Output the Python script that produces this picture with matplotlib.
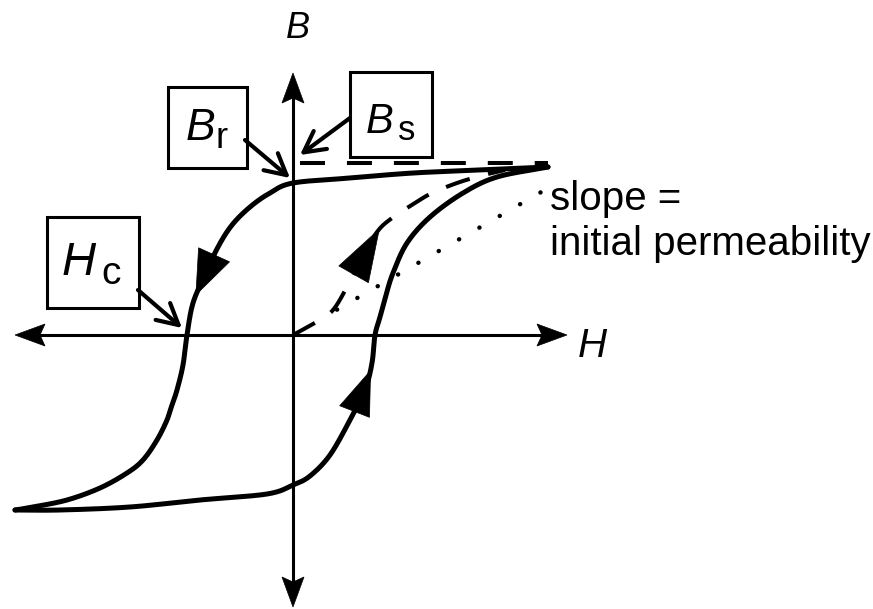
import numpy as np
import matplotlib
matplotlib.use("Agg")
import matplotlib.pyplot as plt
from matplotlib.patches import Polygon, Rectangle

# ---------------- data (H, B in arbitrary units, origin at axis crossing) -------------
# descending branch (from +saturation down to -saturation)
H_desc = [2.55, 1.87, 1.20, 0.57, 0.00, -0.23, -0.43, -0.61, -0.75, -0.88, -1.00,
          -1.06, -1.10, -1.16, -1.21, -1.26, -1.36, -1.50, -1.66, -1.93, -2.26, -2.60, -2.78]
B_desc = [1.68, 1.65, 1.62, 1.57, 1.52, 1.42, 1.28, 1.10, 0.88, 0.60, 0.32,
          0.00, -0.30, -0.55, -0.70, -0.85, -1.05, -1.25, -1.38, -1.53, -1.65, -1.72, -1.75]
# ascending branch (from -saturation up to +saturation)
H_asc = [-2.78, -2.33, -1.63, -0.93, -0.26, 0.00, 0.17, 0.37, 0.57, 0.72, 0.79,
         0.82, 0.87, 0.93, 1.00, 1.14, 1.37, 1.70, 2.04, 2.55]
B_asc = [-1.75, -1.75, -1.72, -1.65, -1.59, -1.50, -1.41, -1.20, -0.85, -0.55, -0.28,
         0.00, 0.18, 0.40, 0.62, 0.92, 1.18, 1.42, 1.58, 1.68]
# initial magnetisation curve (dashed)
H_init = [0.00, 0.25, 0.40, 0.54, 0.69, 0.84, 0.99, 1.22, 1.39, 1.64, 1.87, 2.12]
B_init = [0.00, 0.14, 0.25, 0.48, 0.77, 1.03, 1.17, 1.32, 1.42, 1.52, 1.59, 1.65]
# saturation level (dashed) and its H extent
B_sat = 1.72
H_sat_range = [0.07, 2.55]
# initial permeability (dotted slope line) and its H extent
mu_init = 0.576
H_mu_range = [0.44, 2.49]
# axis extents
H_axis = [-2.78, 2.74]
B_axis = [-2.72, 2.62]
# labels
axis_labels = ["H", "B"]
box_labels = [("B", "r"), ("B", "s"), ("H", "c")]
slope_text = "slope =\ninitial permeability"

# ---------------- setup ----------------
plt.rcParams["font.family"] = ["Liberation Sans", "DejaVu Sans"]
plt.rcParams["lines.scale_dashes"] = False

fig = plt.figure(figsize=(8.73, 6.09), dpi=100)
ax = fig.add_axes([0, 0, 1, 1])
ax.set_xlim(-2.93, 5.80)
ax.set_ylim(-2.74, 3.35)
ax.axis("off")

PX = 0.01  # data units per pixel
K = "black"


def smooth(x, y, n=25):
    P = np.column_stack([x, y]).astype(float)
    P = np.vstack([2 * P[0] - P[1], P, 2 * P[-1] - P[-2]])
    out = []
    t = np.linspace(0, 1, n, endpoint=False)[:, None]
    for i in range(1, len(P) - 2):
        p0, p1, p2, p3 = P[i - 1], P[i], P[i + 1], P[i + 2]
        pts = 0.5 * ((2 * p1) + (-p0 + p2) * t + (2 * p0 - 5 * p1 + 4 * p2 - p3) * t ** 2
                     + (-p0 + 3 * p1 - 3 * p2 + p3) * t ** 3)
        out.append(pts)
    out.append(P[-2][None, :])
    S = np.vstack(out)
    return S[:, 0], S[:, 1]


def arrowhead(tip, direction, length, half, notch=0.0, z=5):
    d = np.asarray(direction, float)
    d = d / np.hypot(*d)
    nrm = np.array([-d[1], d[0]])
    tip = np.asarray(tip, float)
    base = tip - d * length * PX
    pts = [tip, base + nrm * half * PX, tip - d * (length - notch) * PX, base - nrm * half * PX]
    ax.add_patch(Polygon(pts, closed=True, fc=K, ec=K, lw=0.5, zorder=z))


def curve_arrow(Hs, Bs, B_tip, length, half):
    Hs = np.asarray(Hs); Bs = np.asarray(Bs)
    idx = np.where(np.diff(np.sign(Bs - B_tip)) != 0)[0][0]
    tip = np.array([Hs[idx], Bs[idx]])
    seg = np.hypot(np.diff(Hs), np.diff(Bs)) / PX
    s = np.concatenate([[0], np.cumsum(seg)])
    sb = s[idx] - length
    base = np.array([np.interp(sb, s, Hs), np.interp(sb, s, Bs)])
    arrowhead(tip, tip - base, length, half)


# ---------------- axes with arrows ----------------
AL, AH, NOTCH = 30, 11, 5
ax.plot([H_axis[0] + (AL - NOTCH) * PX, H_axis[1] - (AL - NOTCH) * PX], [0, 0],
        color=K, lw=2.2, zorder=3)
ax.plot([0, 0], [B_axis[0] + (AL - NOTCH) * PX, B_axis[1] - (AL - NOTCH) * PX],
        color=K, lw=2.2, zorder=3)
arrowhead((H_axis[1], 0), (1, 0), AL, AH, NOTCH)
arrowhead((H_axis[0], 0), (-1, 0), AL, AH, NOTCH)
arrowhead((0, B_axis[1]), (0, 1), AL, AH, NOTCH)
arrowhead((0, B_axis[0]), (0, -1), AL, AH, NOTCH)

ax.text(H_axis[1] + 0.11, -0.22, axis_labels[0], fontsize=29, style="italic",
        ha="left", va="baseline")
ax.text(0.05, 2.97, axis_labels[1], fontsize=26, style="italic",
        ha="center", va="baseline")

# ---------------- hysteresis loop ----------------
hd, bd = smooth(H_desc, B_desc)
ha_, ba_ = smooth(H_asc, B_asc)
ax.plot(hd, bd, color=K, lw=3.6, solid_capstyle="round", solid_joinstyle="round", zorder=4)
ax.plot(ha_, ba_, color=K, lw=3.6, solid_capstyle="round", solid_joinstyle="round", zorder=4)
curve_arrow(hd, bd, 0.40, 44, 17)
curve_arrow(ha_, ba_, -0.35, 44, 16)

# initial magnetisation (dashed)
hi, bi = smooth(H_init, B_init)
ax.plot(hi, bi, color=K, lw=2.9, linestyle=(0, (18, 13.7)), zorder=4)
curve_arrow(hi, bi, 1.06, 52, 17)

# saturation level (dashed)
ax.plot(H_sat_range, [B_sat, B_sat], color=K, lw=2.9, linestyle=(0, (18, 15.8)), zorder=4)

# initial permeability slope (dotted)
Hm = np.array(H_mu_range)
ax.plot(Hm, mu_init * Hm, color=K, lw=3.2, linestyle=(0, (0.1, 16.8)),
        dash_capstyle="round", zorder=4)
ax.text(2.57, 1.25, slope_text.split("\n")[0], fontsize=29, ha="left", va="baseline")
ax.text(2.57, 0.80, slope_text.split("\n")[1], fontsize=29, ha="left", va="baseline")

# ---------------- boxed labels with pointer arrows ----------------
def box(x0, x1, y0, y1):
    ax.add_patch(Rectangle((x0, y0), x1 - x0, y1 - y0, fc="white", ec=K, lw=2.2, zorder=6))


def pointer(tail, tip):
    ax.annotate("", xy=tip, xytext=tail,
                arrowprops=dict(arrowstyle="->,head_length=15,head_width=8", lw=3,
                                color=K, shrinkA=0, shrinkB=0, mutation_scale=1),
                zorder=6)


# B_r
box(-1.25, -0.46, 1.67, 2.48)
ax.text(-1.07, 1.95, box_labels[0][0], fontsize=32, style="italic", ha="left", va="baseline", zorder=7)
ax.text(-0.77, 1.87, box_labels[0][1], fontsize=26, ha="left", va="baseline", zorder=7)
pointer((-0.48, 1.95), (-0.03, 1.57))

# B_s
box(0.57, 1.39, 1.78, 2.63)
ax.text(0.73, 2.02, box_labels[1][0], fontsize=30, style="italic", ha="left", va="baseline", zorder=7)
ax.text(1.05, 1.95, box_labels[1][1], fontsize=25, ha="left", va="baseline", zorder=7)
pointer((0.57, 2.17), (0.07, 1.80))

# H_c
box(-2.46, -1.54, 0.27, 1.18)
ax.text(-2.31, 0.60, box_labels[2][0], fontsize=34, style="italic", ha="left", va="baseline", zorder=7)
ax.text(-1.92, 0.51, box_labels[2][1], fontsize=28, ha="left", va="baseline", zorder=7)
pointer((-1.55, 0.45), (-1.11, 0.07))

fig.savefig("out.png", dpi=100)
